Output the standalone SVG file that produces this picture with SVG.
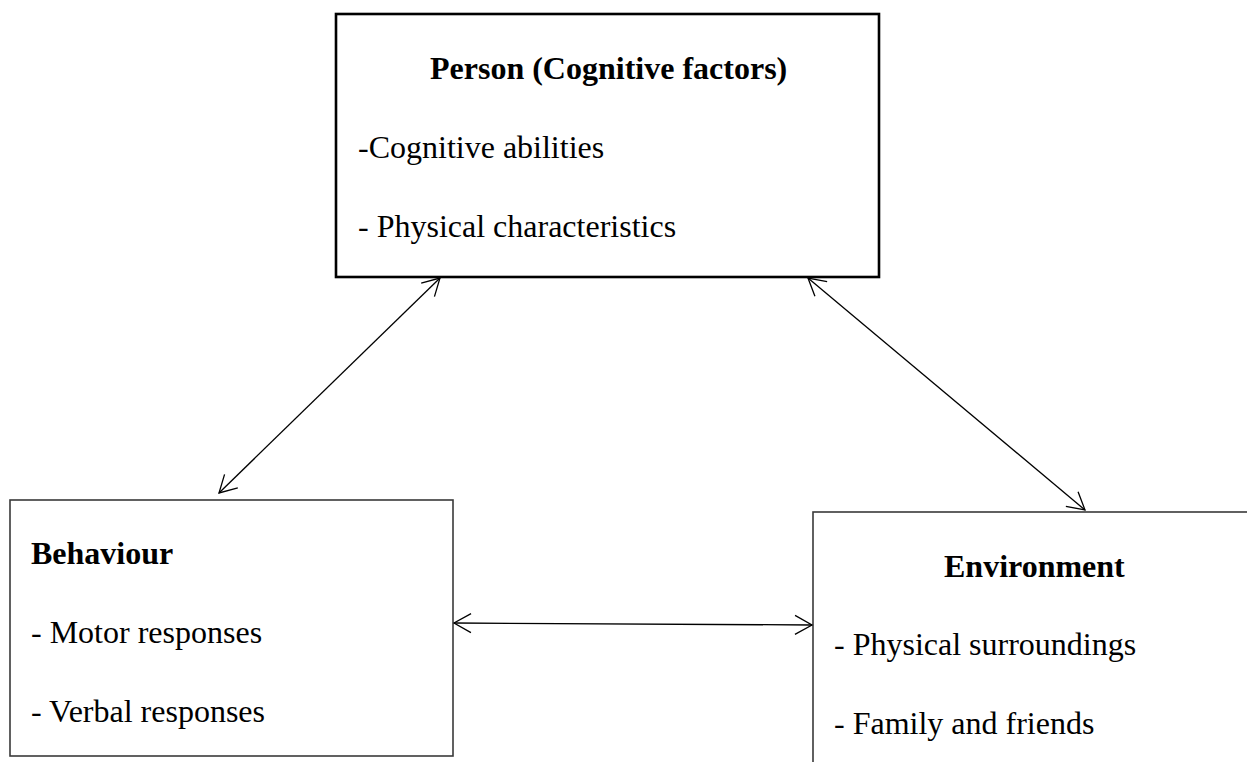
<svg xmlns="http://www.w3.org/2000/svg" width="1247" height="762" viewBox="0 0 1247 762">
  <style>
    .t { font-family: "Liberation Serif", "Times New Roman", serif; font-size: 32px; fill: #000; }
    .b { font-weight: bold; }
    .box { fill: #fff; stroke: #3a3a3a; stroke-width: 1.6; }
    .boxk { fill: #fff; stroke: #000; stroke-width: 2.6; }
    .conn { stroke: #000; stroke-width: 1.3; fill: none; }
  </style>
  <defs>
    <marker id="ah" markerUnits="userSpaceOnUse" orient="auto-start-reverse" refX="0" refY="0" markerWidth="20" markerHeight="22" viewBox="-20 -11 20 22" overflow="visible">
      <path d="M-17,-9.5 L0,0 L-17,9.5" fill="none" stroke="#000" stroke-width="1.3"/>
    </marker>
  </defs>
  <rect width="1247" height="762" fill="#fff"/>
  <g id="person">
    <rect class="boxk" x="336" y="14" width="543" height="263"/>
    <text class="t b" x="430" y="79">Person (Cognitive factors)</text>
    <text class="t" x="358" y="158">-Cognitive abilities</text>
    <text class="t" x="358" y="237">- Physical characteristics</text>
  </g>
  <g id="behaviour">
    <rect class="box" x="10" y="500" width="443" height="256"/>
    <text class="t b" x="31" y="564">Behaviour</text>
    <text class="t" x="31" y="643">- Motor responses</text>
    <text class="t" x="31" y="722">- Verbal responses</text>
  </g>
  <g id="environment">
    <rect class="box" x="813" y="512" width="460" height="280"/>
    <text class="t b" x="944" y="577">Environment</text>
    <text class="t" x="834" y="655">- Physical surroundings</text>
    <text class="t" x="834" y="734">- Family and friends</text>
  </g>
  <g id="connectors">
    <line class="conn" x1="440" y1="278" x2="219" y2="493" marker-start="url(#ah)" marker-end="url(#ah)"/>
    <line class="conn" x1="808" y1="278" x2="1085" y2="510" marker-start="url(#ah)" marker-end="url(#ah)"/>
    <line class="conn" x1="454" y1="623" x2="812" y2="625" marker-start="url(#ah)" marker-end="url(#ah)"/>
  </g>
</svg>
